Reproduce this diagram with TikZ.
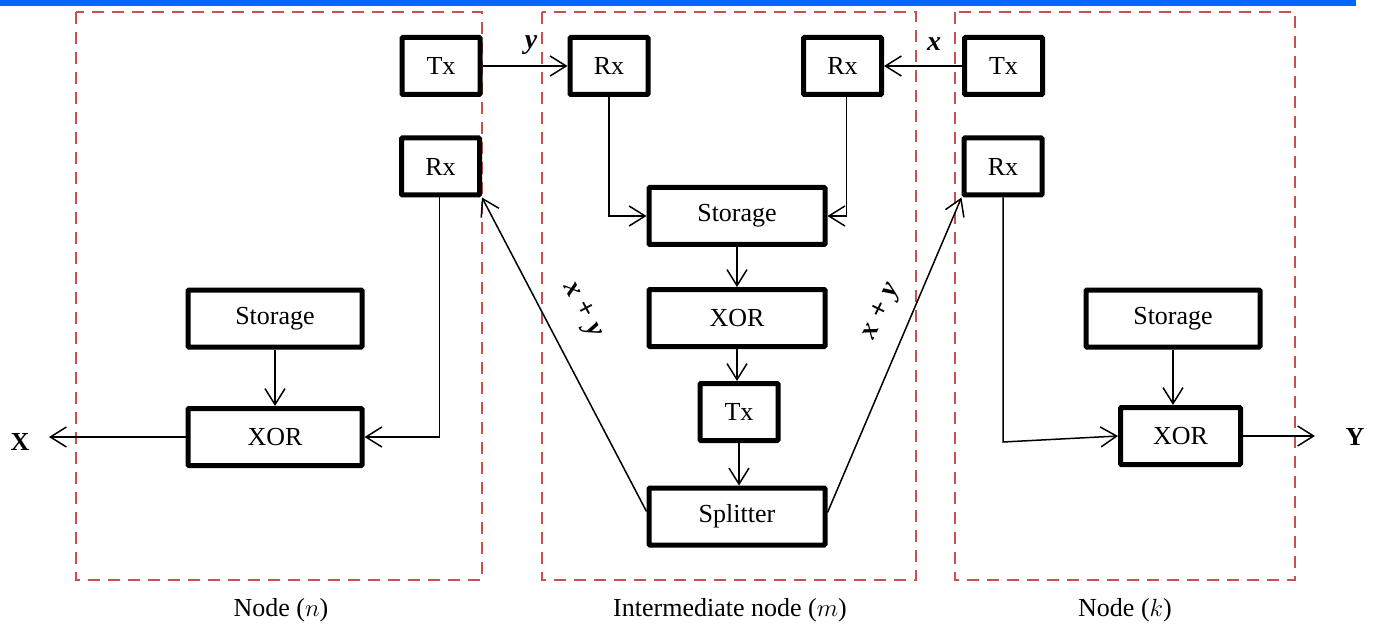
\documentclass[tikz,border=0pt]{standalone}
\usepackage{fontspec}
\setmainfont{Liberation Serif}
\usetikzlibrary{arrows.meta,calc}
\definecolor{barblue}{RGB}{0,102,255}
\definecolor{zone}{RGB}{200,80,80}
\tikzset{
  blk/.style={draw=black,line width=5pt,rounded corners=1pt,fill=white,inner sep=0pt,
    font=\fontsize{26}{30}\selectfont},
  small/.style={blk,minimum width=78pt,minimum height=57pt},
  wide/.style={blk,minimum width=174pt,minimum height=57pt},
  zonebox/.style={draw=zone,line width=2pt,dash pattern=on 12pt off 8pt},
  link/.style={draw=black,line width=1.5pt},
  arr/.style={link,-{Straight Barb[length=16pt,width=20pt,line width=1.5pt]}},
  lab/.style={font=\fontsize{26}{30}\selectfont},
  sig/.style={font=\fontsize{28}{32}\selectfont\bfseries\itshape,inner sep=0pt},
}
\newcommand{\sumlabel}{x\hspace{0.3em}+\hspace{0.3em}y}
\begin{document}
\begin{tikzpicture}[x=1pt,y=-1pt]
\useasboundingbox (0,0) rectangle (1379,639);
% title bar
\fill[barblue] (0,0) rectangle (1356,6);

% node areas
\draw[zonebox] (76,12) rectangle (482,580);
\draw[zonebox] (542,12) rectangle (916,580);
\draw[zonebox] (955,12) rectangle (1295,580);

% node (n)
\node[small] (txL) at (441,66) {Tx};
\node[small] (rxL) at (440.5,166.5) {Rx};
\node[wide] (stL) at (275,318.5) {Storage};
\node[wide] (xoL) at (275,437) {XOR};

% intermediate node (m)
\node[small] (rxM1) at (609,66) {Rx};
\node[small] (rxM2) at (842.5,66) {Rx};
\node[wide, minimum width=176pt] (stM) at (737,216) {Storage};
\node[wide, minimum width=176pt] (xoM) at (737,318) {XOR};
\node[small] (txM) at (739,412) {Tx};
\node[wide, minimum width=176pt] (sp) at (737,516.5) {Splitter};

% node (k)
\node[small] (txR) at (1003.5,66) {Tx};
\node[small] (rxR) at (1003,166.5) {Rx};
\node[wide] (stR) at (1173,318.5) {Storage};
\node[wide, minimum width=120pt] (xoR) at (1180.5,436) {XOR};

% free ends of the outputs
\coordinate (outX) at (49,437);
\coordinate (outY) at (1315,436);
\node[lab, font=\fontsize{26}{30}\selectfont\bfseries] (X) at (20,442) {X};
\node[lab, font=\fontsize{26}{30}\selectfont\bfseries] (Y) at (1355,437) {Y};

% signal names
\node[sig] (sy) at (531,45) {y};
\node[sig] (sx) at (934,44) {x};
\node[sig, rotate=-62] (sxyL) at (582,310) {\sumlabel};
\node[sig, rotate=64] (sxyR) at (882,312) {\sumlabel};

% links between nodes
\draw[arr] (txL.east) -- (rxM1.west);
\draw[arr] (txR.west) -- (rxM2.east);
\draw[arr] (rxM1.south) |- (stM.west);
\draw[arr] ([xshift=4pt]rxM2.south) |- (stM.east);
\draw[arr] (stM.south) -- (xoM.north);
\draw[arr] (xoM.south) -- (xoM.south |- txM.north);
\draw[arr] (txM.south) -- (txM.south |- sp.north);
\draw[arr] ([yshift=5pt]sp.west) -- (rxL.south east);
\draw[arr] ([yshift=4pt]sp.east) -- (rxR.south west);

% node (n) internals
\draw[arr] (stL.south) -- (xoL.north);
\draw[arr] ([xshift=-1pt]rxL.south) |- (xoL.east);
\draw[arr] (xoL.west) -- (outX);

% node (k) internals
\draw[arr] (stR.south) -- (stR.south |- xoR.north);
\draw[arr] (rxR.south) -- ($(rxR.south |- xoR.west)+(0,6)$) -- (xoR.west);
\draw[arr] (xoR.east) -- (outY);

% captions
\node[lab] (capN) at (281,610) {Node ($n$)};
\node[lab] (capM) at (730,610) {Intermediate node ($m$)};
\node[lab] (capK) at (1125,610) {Node ($k$)};
\end{tikzpicture}
\end{document}
